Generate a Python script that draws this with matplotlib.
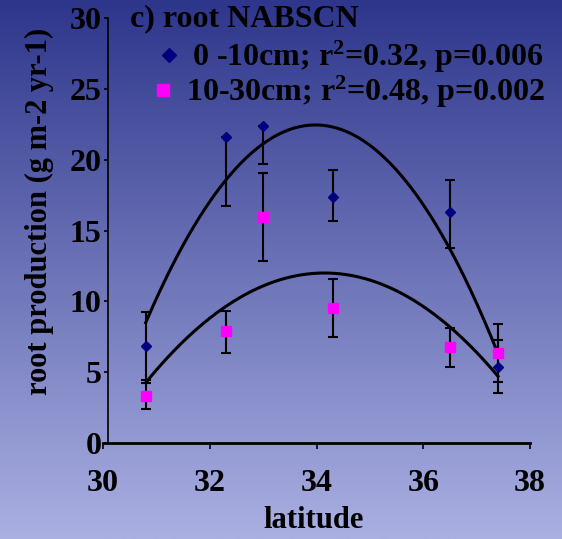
import numpy as np
import matplotlib.pyplot as plt
from matplotlib.lines import Line2D

# datos
latitud = [30.8, 32.3, 33.0, 34.3, 36.5, 37.4]

prod_0_10 = [6.85, 21.6, 22.4, 17.4, 16.3, 5.35]
err_0_10_lo = [2.4, 4.9, 2.7, 1.7, 2.5, 1.8]
err_0_10_hi = [2.4, 0.0, 0.0, 1.9, 2.3, 1.95]

prod_10_30 = [3.3, 7.9, 15.95, 9.5, 6.75, 6.35]
err_10_30_lo = [0.9, 1.55, 3.1, 2.0, 1.4, 2.05]
err_10_30_hi = [0.95, 1.4, 3.1, 2.1, 1.35, 2.05]

# ajustes cuadraticos: (x del vertice, y del vertice, curvatura)
ajuste_0_10 = (33.98, 22.45, 1.38)
ajuste_10_30 = (34.15, 12.0, 0.69)
rango_ajuste = (30.8, 37.4)

etiquetas = ["0 -10cm; r$^{2}$=0.32, p=0.006", "10-30cm; r$^{2}$=0.48, p=0.002"]

plt.rcParams['font.family'] = ['Liberation Serif', 'DejaVu Serif']
plt.rcParams['font.weight'] = 'bold'
plt.rcParams['mathtext.fontset'] = 'custom'
plt.rcParams['mathtext.rm'] = 'Liberation Serif:bold'
plt.rcParams['mathtext.it'] = 'Liberation Serif:bold'

FS = 23

fig = plt.figure(figsize=(5.62, 5.39), dpi=100)

# fondo degradado
bg = fig.add_axes([0, 0, 1, 1], zorder=-10)
grad = np.linspace(0, 1, 256).reshape(-1, 1)
top = np.array([46, 54, 140]) / 255
bot = np.array([170, 176, 226]) / 255
img = top + (bot - top) * grad[..., None]
bg.imshow(img, aspect='auto', extent=[0, 1, 0, 1])
bg.axis('off')

W, H = 562, 539
x0, x1 = 103, 530
y0, y1 = 443, 18
ax = fig.add_axes([x0 / W, 1 - y0 / H, (x1 - x0) / W, (y0 - y1) / H])
ax.patch.set_alpha(0)

xs = np.linspace(*rango_ajuste, 200)
for h, k, a in (ajuste_0_10, ajuste_10_30):
    ax.plot(xs, k - a * (xs - h) ** 2, color='black', lw=2.2, zorder=2)

ax.errorbar(latitud, prod_0_10, yerr=[err_0_10_lo, err_0_10_hi], fmt='none',
            ecolor='black', elinewidth=1.5, capsize=3.5, capthick=1.5, zorder=3)
ax.errorbar(latitud, prod_10_30, yerr=[err_10_30_lo, err_10_30_hi], fmt='none',
            ecolor='black', elinewidth=1.5, capsize=3.5, capthick=1.5, zorder=3)
ax.plot(latitud, prod_0_10, ls='none', marker='D', ms=5.5, color='#000080', zorder=4)
ax.plot(latitud, prod_10_30, ls='none', marker='s', ms=6.5, color='#FF00FF', zorder=4)

ax.set_xlim(30, 38)
ax.set_ylim(0, 30)
ax.set_xticks([30, 32, 34, 36, 38])
ax.set_yticks([0, 5, 10, 15, 20, 25, 30])
ax.spines['top'].set_visible(False)
ax.spines['right'].set_visible(False)
ax.spines['left'].set_position(('data', 30.1))
ax.spines['left'].set_linewidth(1.2)
ax.spines['bottom'].set_linewidth(2)
ax.tick_params(axis='both', labelsize=FS, direction='out', width=1.2)
ax.tick_params(axis='y', pad=2, length=3)
ax.tick_params(axis='x', pad=15, length=4)
for lab in ax.get_xticklabels() + ax.get_yticklabels():
    lab.set_fontweight('bold')

fig.text(314 / W, 1 - 521 / H, 'latitude', fontsize=22, fontweight='bold',
         ha='center', va='center')
fig.text(39 / W, 1 - 211 / H, 'root production (g m-2 yr-1)', fontsize=22,
         fontweight='bold', rotation=90, ha='center', va='center')

fig.text(130 / W, 1 - 19 / H, 'c) root NABSCN', fontsize=FS, fontweight='bold',
         va='center', ha='left')

# leyenda: una fila por serie
handles = [Line2D([], [], ls='none', marker='D', ms=7, color='#000080'),
           Line2D([], [], ls='none', marker='s', ms=9, color='#FF00FF')]
anclas = [(158, 39), (152, 74)]
for hnd, txt, (lx, ly) in zip(handles, etiquetas, anclas):
    fig.legend([hnd], [txt], loc='upper left', bbox_to_anchor=(lx / W, 1 - ly / H),
               frameon=False, fontsize=FS, handlelength=0.7, handletextpad=0.35,
               borderaxespad=0, borderpad=0)

fig.savefig('out.png', dpi=100)
